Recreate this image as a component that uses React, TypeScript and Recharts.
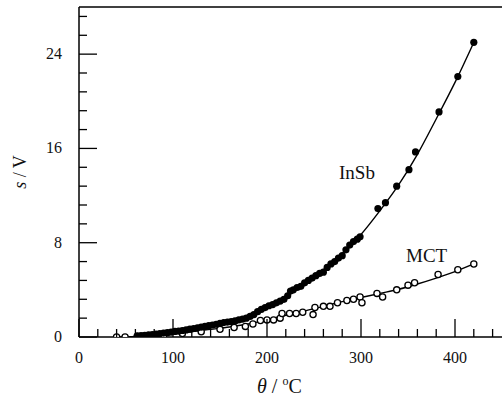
import { ComposedChart, XAxis, YAxis, Line, Scatter, ReferenceLine } from 'recharts'

// measured points, theta in °C, signal in V
const insbPoints = [
  [62, 0.1], [66, 0.12], [70, 0.14], [74, 0.18], [78, 0.2], [82, 0.24], [86, 0.28], [90, 0.33],
  [94, 0.37], [98, 0.42], [102, 0.47], [106, 0.5], [110, 0.55], [114, 0.6], [118, 0.66], [122, 0.72],
  [126, 0.78], [130, 0.84], [134, 0.9], [138, 0.96], [142, 1.02], [146, 1.08], [150, 1.15], [154, 1.22],
  [158, 1.27], [162, 1.3], [166, 1.36], [170, 1.45], [174, 1.52], [178, 1.6], [182, 1.75], [186, 1.9],
  [190, 2.15], [194, 2.35], [198, 2.5], [202, 2.65], [206, 2.75], [210, 2.9], [214, 3.05], [218, 3.2],
  [222, 3.5], [225, 3.9], [228, 4.0], [232, 4.2], [236, 4.3], [240, 4.6], [244, 4.8], [248, 5.0],
  [252, 5.2], [256, 5.4], [260, 5.5], [264, 5.9], [268, 6.2], [272, 6.4], [276, 6.7], [280, 6.9],
  [284, 7.4], [288, 7.8], [292, 8.1], [296, 8.3], [299, 8.5], [318, 10.9], [326, 11.4], [338, 12.8],
  [351, 14.2], [358, 15.7], [383, 19.1], [403, 22.1], [420, 25.0],
]

const mctPoints = [
  [40, 0], [49, 0], [62, 0.05], [68, 0.05], [90, 0.15], [110, 0.3], [130, 0.45], [150, 0.65],
  [165, 0.8], [177, 0.9], [185, 1.1], [193, 1.4], [200, 1.45], [207, 1.45], [214, 1.6], [216, 2.0],
  [224, 2.0], [231, 2.0], [238, 2.1], [249, 1.9], [251, 2.5], [260, 2.6], [267, 2.6], [275, 2.9],
  [285, 3.1], [292, 3.2], [299, 3.4], [301, 2.9], [317, 3.7], [323, 3.4], [338, 4.0], [350, 4.4],
  [357, 4.6], [382, 5.3], [403, 5.7], [420, 6.2],
]

// fitted curves
const insbFit = [
  [60, 0.1], [80, 0.25], [100, 0.45], [120, 0.68], [140, 0.95], [160, 1.3], [180, 1.8], [200, 2.5],
  [220, 3.4], [240, 4.5], [260, 5.7], [280, 7.1], [300, 8.7], [320, 10.7], [340, 12.9], [360, 15.5],
  [380, 18.5], [400, 21.6], [420, 25.0],
]

const mctFit = [
  [40, 0], [60, 0.05], [80, 0.15], [100, 0.3], [120, 0.45], [140, 0.65], [160, 0.85], [180, 1.1],
  [200, 1.45], [220, 1.85], [240, 2.2], [260, 2.6], [280, 3.0], [300, 3.35], [320, 3.7], [340, 4.05],
  [360, 4.5], [380, 5.0], [400, 5.55], [420, 6.2],
]

const xTicks = [0, 20, 40, 60, 80, 100, 120, 140, 160, 180, 200, 220, 240, 260, 280, 300, 320, 340, 360, 380, 400, 420, 440]
const yTicks = [0, 1.6, 3.2, 4.8, 6.4, 8, 9.6, 11.2, 12.8, 14.4, 16, 17.6, 19.2, 20.8, 22.4, 24, 25.6, 27.2]

const toXY = (pts: number[][]) => pts.map(([x, y]) => ({ x, y }))

const FONT = '"Liberation Serif", "DejaVu Serif", serif'

const XTick = (props: any) => {
  const { x, y, payload } = props
  const major = payload.value % 100 === 0
  return (
    <g>
      <line x1={x} x2={x} y1={y} y2={y - (major ? 18 : 8)} stroke="#000" strokeWidth={1.3} />
      {major && (
        <text x={x} y={y + 26} textAnchor="middle" fontFamily={FONT} fontSize={16} fill="#111">
          {payload.value}
        </text>
      )}
    </g>
  )
}

const YTick = (props: any) => {
  const { x, y, payload } = props
  const major = payload.value % 8 === 0
  return (
    <g>
      <line x1={x} x2={x + (major ? 18 : 8)} y1={y} y2={y} stroke="#000" strokeWidth={1.3} />
      {major && (
        <text x={x - 17} y={y + 5} textAnchor="end" fontFamily={FONT} fontSize={16} fill="#111">
          {payload.value}
        </text>
      )}
    </g>
  )
}

const FilledDot = (props: any) => <circle cx={props.cx} cy={props.cy} r={3.6} fill="#000" />
const OpenDot = (props: any) => (
  <circle cx={props.cx} cy={props.cy} r={3.1} fill="#fff" stroke="#000" strokeWidth={1.3} />
)

export default function App() {
  return (
    <div style={{ position: 'absolute', left: 0, top: 0, width: 503, height: 402, background: '#fff' }}>
      <ComposedChart width={503} height={402} margin={{ top: 7, right: 1, bottom: 0, left: 0 }}>
        <XAxis
          type="number"
          dataKey="x"
          domain={[0, 450]}
          ticks={xTicks}
          interval={0}
          tickSize={0}
          tickMargin={0}
          tick={<XTick />}
          height={65}
          axisLine={{ stroke: '#000', strokeWidth: 1.5 }}
          allowDataOverflow
        />
        <YAxis
          type="number"
          dataKey="y"
          domain={[0, 28]}
          ticks={yTicks}
          interval={0}
          tickSize={0}
          tickMargin={0}
          tick={<YTick />}
          width={79}
          axisLine={{ stroke: '#000', strokeWidth: 1.5 }}
          allowDataOverflow
        />
        <ReferenceLine y={28} stroke="#000" strokeWidth={1.5} ifOverflow="extendDomain" />
        <Line data={toXY(insbFit)} dataKey="y" type="monotone" stroke="#000" strokeWidth={1.4} dot={false} isAnimationActive={false} />
        <Line data={toXY(mctFit)} dataKey="y" type="monotone" stroke="#000" strokeWidth={1.4} dot={false} isAnimationActive={false} />
        <Scatter data={toXY(mctPoints)} dataKey="y" shape={<OpenDot />} isAnimationActive={false} />
        <Scatter data={toXY(insbPoints)} dataKey="y" shape={<FilledDot />} isAnimationActive={false} />
      </ComposedChart>
      <div style={{ position: 'absolute', left: 339, top: 162, fontFamily: FONT, fontSize: 19, color: '#111' }}>InSb</div>
      <div style={{ position: 'absolute', left: 406, top: 245, fontFamily: FONT, fontSize: 19, color: '#111' }}>MCT</div>
      <div
        style={{
          position: 'absolute',
          left: 257,
          top: 374,
          fontFamily: FONT,
          fontSize: 20,
          color: '#111',
          whiteSpace: 'nowrap',
        }}
      >
        <i>θ</i> / <sup style={{ fontSize: 12 }}>o</sup>C
      </div>
      <div
        style={{
          position: 'absolute',
          left: 20,
          top: 172,
          transform: 'translate(-50%, -50%) rotate(-90deg)',
          fontFamily: FONT,
          fontSize: 18,
          color: '#111',
          whiteSpace: 'nowrap',
        }}
      >
        <i>s</i> / V
      </div>
    </div>
  )
}
